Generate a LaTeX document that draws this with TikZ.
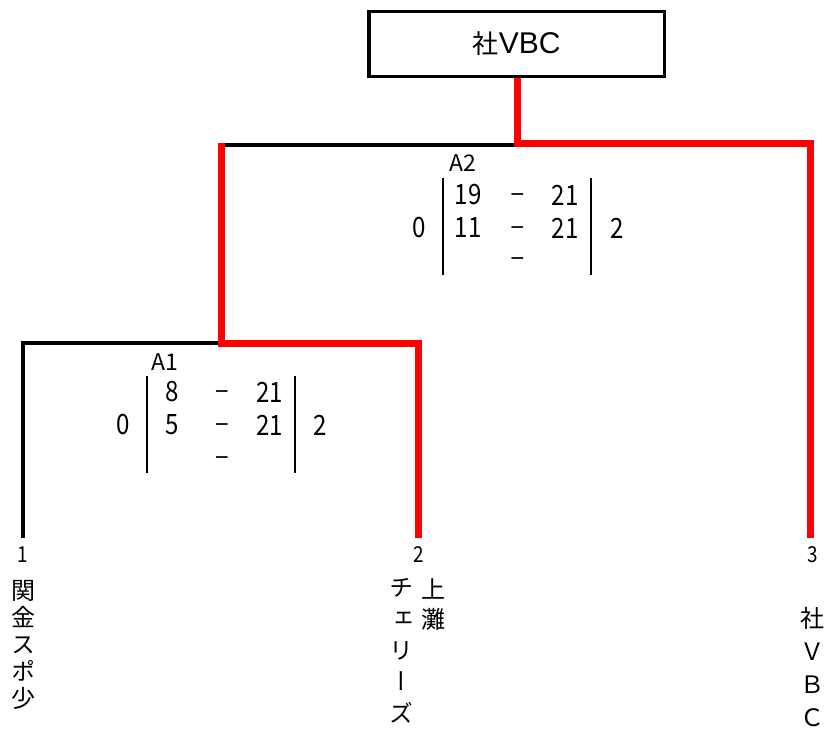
\documentclass[tikz,border=0pt]{standalone}
\usepackage{fontspec}
\setmainfont{Noto Sans CJK JP}
\newfontfamily\tatefont{Noto Sans CJK JP}[RawFeature=+vert]
\newfontfamily\numfont{Noto Sans CJK JP}[FakeStretch=0.86]
\newfontfamily\latfont{Liberation Sans}
\tikzset{
  win/.style={draw=red, line width=7bp},
  lose/.style={draw=black, line width=3.5bp},
  champbox/.style={draw, line width=3.3bp, minimum width=295.5bp, minimum height=65bp, inner sep=0pt, font=\fontsize{26bp}{26bp}\selectfont},
  pts/.style={inner sep=0pt, font=\fontsize{28bp}{28bp}\selectfont\numfont},
  vs/.style={inner sep=0pt, anchor=base, font=\fontsize{24bp}{24bp}\selectfont\latfont},
  matchno/.style={inner sep=0pt, font=\fontsize{23bp}{23bp}\selectfont},
  seedno/.style={inner sep=0pt, font=\fontsize{22bp}{22bp}\selectfont\numfont},
  tate/.style={inner sep=0pt, anchor=north, align=center, font=\fontsize{24bp}{#1}\selectfont\tatefont},
  tate/.default=27bp,
  setbar/.style={line width=1.5bp}
}

\begin{document}
\begin{tikzpicture}[x=1bp,y=-1bp]
\useasboundingbox (0,0) rectangle (831,747);

% champion
\node[champbox] (champ) at (516.7,44) {社{\fontsize{30bp}{30bp}\selectfont\latfont VBC}};

% leaves and junctions
\coordinate (t1) at (23,538);
\coordinate (t2) at (418,538);
\coordinate (t3) at (810,538);
\coordinate (m1) at (221,343);
\coordinate (m2) at (517,143);

% bracket
\draw[lose] (m1 |- 0,145) -- (m2 |- 0,145);
\draw[lose] (t1) |- (m1);
\draw[win] (m1 |- m2) -- (m1) -| (t2);
\draw[win] (champ.south -| m2) -- (m2) -| (t3);

% match A2 (minus signs on their baseline)
\node[matchno] (a2) at (462.5,163) {A2};
\draw[setbar] (443,178) -- (443,275);
\draw[setbar] (591,178) -- (591,275);
\node[pts] (a2l1) at (468,195) {19};
\node[vs] (a2d1) at (517.5,202) {−};
\node[pts] (a2r1) at (565,195) {21};
\node[pts] (a2w) at (419,228) {0};
\node[pts] (a2l2) at (468,228) {11};
\node[vs] (a2d2) at (517.5,235) {−};
\node[pts] (a2r2) at (565,228) {21};
\node[pts] (a2s) at (617,228) {2};
\node[vs] (a2d3) at (517.5,266) {−};

% match A1
\node[matchno] (a1) at (165,362) {A1};
\draw[setbar] (147,376) -- (147,473);
\draw[setbar] (295,376) -- (295,473);
\node[pts] (a1l1) at (172,392) {8};
\node[vs] (a1d1) at (222,399.5) {−};
\node[pts] (a1r1) at (269.5,392) {21};
\node[pts] (a1w) at (123.5,425) {0};
\node[pts] (a1l2) at (172,425) {5};
\node[vs] (a1d2) at (222,432.5) {−};
\node[pts] (a1r2) at (269.5,425) {21};
\node[pts] (a1s) at (320,425) {2};
\node[vs] (a1d3) at (222,465) {−};

% seeds
\node[seedno] (n1) at (23,555) {1};
\node[seedno] (n2) at (419,554.5) {2};
\node[seedno] (n3) at (813,554.5) {3};

% teams
\node[tate=27bp] (k1) at (23,580) {関\\金\\ス\\ポ\\少};
\node[tate=30bp] (k2a) at (433,578) {上\\灘};
\node[tate=31.5bp] (k2b) at (401,578) {チ\\ェ\\リ\\ー\\ズ};
\node[tate=33bp] (k3) at (812.5,607) {社\\Ｖ\\Ｂ\\Ｃ};
\end{tikzpicture}
\end{document}
